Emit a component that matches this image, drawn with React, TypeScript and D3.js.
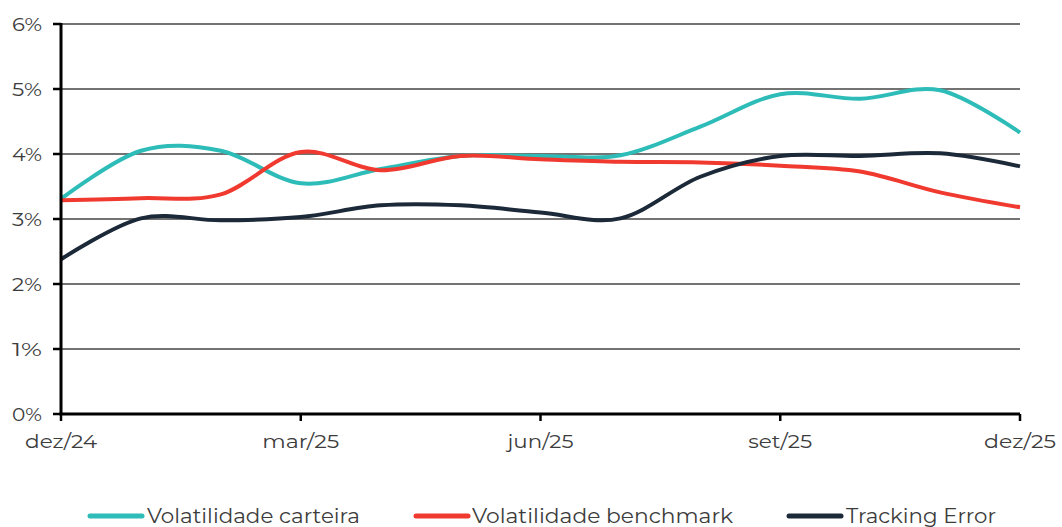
import React from "react";
import * as d3 from "d3";

const months = ["dez/24","jan/25","fev/25","mar/25","abr/25","mai/25","jun/25","jul/25","ago/25","set/25","out/25","nov/25","dez/25"];
const volCarteira = [3.31, 4.05, 4.05, 3.55, 3.77, 3.97, 3.97, 3.98, 4.42, 4.92, 4.85, 4.98, 4.33];
const volBenchmark = [3.29, 3.32, 3.38, 4.03, 3.75, 3.97, 3.92, 3.88, 3.87, 3.82, 3.73, 3.41, 3.18];
const trackingError = [2.38, 3.01, 2.98, 3.03, 3.21, 3.21, 3.1, 3.01, 3.65, 3.97, 3.97, 4.01, 3.81];
const yTicks = [0, 1, 2, 3, 4, 5, 6];
const xTickIdx = [0, 3, 6, 9, 12];

const seriesNames = ["Volatilidade carteira", "Volatilidade benchmark", "Tracking Error"];
const seriesColors = ["#2dbcb8", "#f0392f", "#1c2939"];

const W = 1062, H = 527;
const FONT = "Montserrat, 'Open Sans', 'Noto Sans', sans-serif";
const TXT = "#3c3c3c";

export default function App() {
  const x = d3.scaleLinear().domain([0, months.length - 1]).range([61, 1020]);
  const y = d3.scaleLinear().domain([0, 6]).range([414, 24]);
  const line = d3.line<number>()
    .x((_, i) => x(i))
    .y((d) => y(d))
    .curve(d3.curveCatmullRom.alpha(0));
  const data = [volCarteira, volBenchmark, trackingError];

  const legendItems = [
    { lx0: 90, lx1: 142, tx: 147, tw: 213 },
    { lx0: 416, lx1: 468, tx: 472, tw: 261 },
    { lx0: 789, lx1: 841, tx: 846, tw: 150 },
  ];
  const xLabelW = [72, 77, 66, 64, 72];

  return (
    <svg width={W} height={H} style={{ position: "absolute", left: 0, top: 0, background: "#fff" }}
      fontFamily={FONT}>
      {/* gridlines */}
      {yTicks.filter((t) => t > 0).map((t) => (
        <line key={"g" + t} x1={61} x2={1020} y1={y(t)} y2={y(t)} stroke="#444" strokeWidth={1.4} />
      ))}
      {/* y tick marks */}
      {yTicks.map((t) => (
        <line key={"yt" + t} x1={53} x2={61} y1={y(t)} y2={y(t)} stroke="#000" strokeWidth={2.5} />
      ))}
      {/* y labels */}
      {yTicks.map((t) => (
        <text key={"yl" + t} x={42} y={y(t)} dy="0.35em" textAnchor="end" fontSize={19} fill={TXT}
          textLength={30} lengthAdjust="spacingAndGlyphs">{t + "%"}</text>
      ))}
      {/* x ticks */}
      {xTickIdx.map((i) => (
        <line key={"xt" + i} x1={x(i)} x2={x(i)} y1={414} y2={421} stroke="#000" strokeWidth={2.5} />
      ))}
      {xTickIdx.map((i, k) => (
        <text key={"xl" + i} x={x(i)} y={441} dy="0.35em" textAnchor="middle" fontSize={19} fill={TXT}
          textLength={xLabelW[k]} lengthAdjust="spacingAndGlyphs">{months[i]}</text>
      ))}
      {/* series */}
      {data.map((s, k) => (
        <path key={"s" + k} d={line(s) || ""} fill="none" stroke={seriesColors[k]} strokeWidth={4}
          strokeLinejoin="round" strokeLinecap="butt" />
      ))}
      {/* axes */}
      <line x1={61} x2={61} y1={23} y2={415} stroke="#000" strokeWidth={3} />
      <line x1={59.5} x2={1020} y1={414} y2={414} stroke="#000" strokeWidth={3} />
      {/* legend */}
      {legendItems.map((it, k) => (
        <g key={"lg" + k}>
          <line x1={it.lx0} x2={it.lx1} y1={516} y2={516} stroke={seriesColors[k]} strokeWidth={5} strokeLinecap="round" />
          <text x={it.tx} y={516} dy="0.35em" fontSize={20} fill={TXT}
            textLength={it.tw} lengthAdjust="spacingAndGlyphs">{seriesNames[k]}</text>
        </g>
      ))}
    </svg>
  );
}
